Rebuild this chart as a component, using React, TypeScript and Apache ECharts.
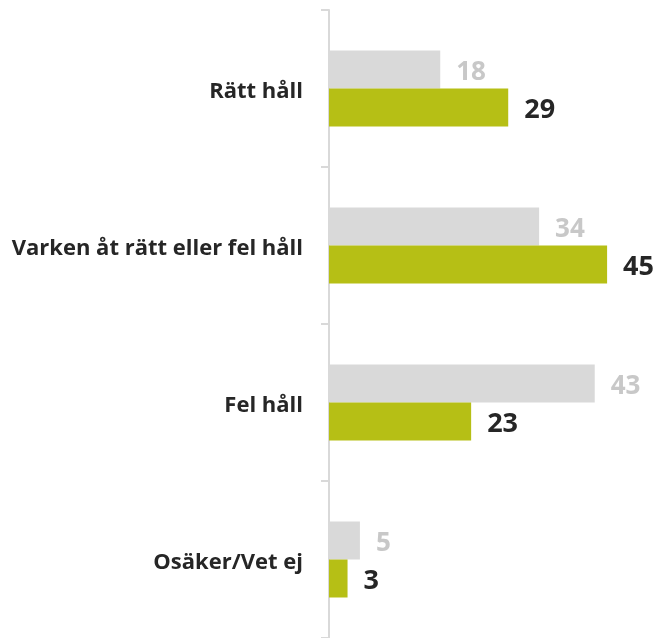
import React, { useEffect, useRef } from "react";
import * as echarts from "echarts";

const categories = ["Rätt håll", "Varken åt rätt eller fel håll", "Fel håll", "Osäker/Vet ej"];
const greyValues = [18, 34, 43, 5];
const greenValues = [29, 45, 23, 3];

export default function App() {
  const ref = useRef<HTMLDivElement>(null);
  useEffect(() => {
    if (!ref.current) return;
    const chart = echarts.init(ref.current, null, { renderer: "svg" });
    chart.setOption({
      animation: false,
      grid: { left: 329, top: 10, right: 20, bottom: 0, containLabel: false },
      xAxis: {
        type: "value",
        min: 0,
        max: 50,
        show: false,
      },
      yAxis: {
        type: "category",
        inverse: true,
        data: categories,
        axisLine: { show: true, lineStyle: { color: "#d9d9d9", width: 2 } },
        axisTick: { show: true, length: 8, lineStyle: { color: "#d9d9d9", width: 2 } },
        axisLabel: {
          color: "#262626",
          fontFamily: "Open Sans",
          fontWeight: "bold",
          fontSize: 22,
          margin: 26,
        },
        splitLine: { show: false },
      },
      series: [
        {
          type: "bar",
          data: greyValues,
          barWidth: 38,
          barGap: "0%",
          itemStyle: { color: "#d9d9d9" },
          label: {
            show: true,
            position: "right",
            distance: 16,
            color: "#c8c8c8",
            fontFamily: "Open Sans",
            fontWeight: "bold",
            fontSize: 26,
          },
        },
        {
          type: "bar",
          data: greenValues,
          barWidth: 38,
          itemStyle: { color: "#b6bf15" },
          label: {
            show: true,
            position: "right",
            distance: 16,
            color: "#262626",
            fontFamily: "Open Sans",
            fontWeight: "bold",
            fontSize: 27,
          },
        },
      ],
    });
    return () => chart.dispose();
  }, []);
  return (
    <div
      ref={ref}
      style={{ position: "fixed", left: 0, top: 0, width: 658, height: 638 }}
    />
  );
}
